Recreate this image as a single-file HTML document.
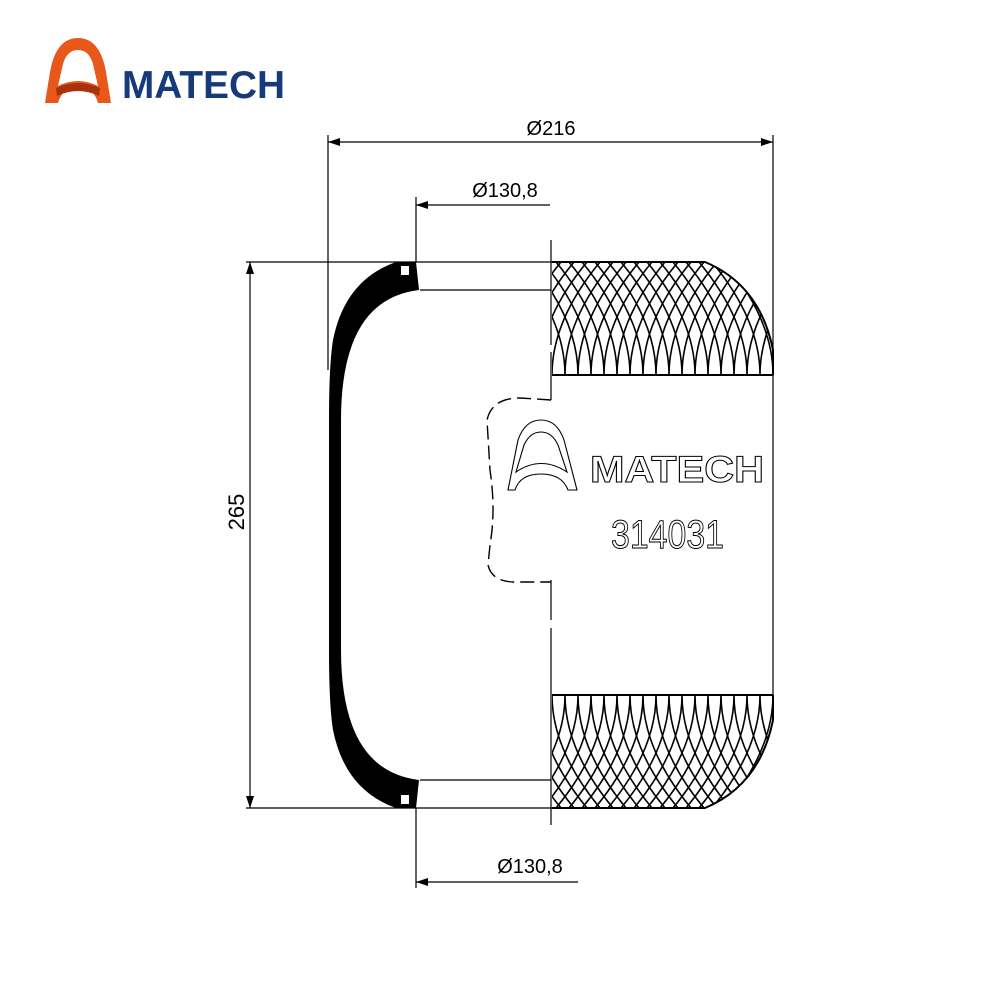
<!DOCTYPE html>
<html><head><meta charset="utf-8"><style>html,body{margin:0;padding:0;background:#fff}svg{display:block}</style></head>
<body>
<svg width="1000" height="1000" viewBox="0 0 1000 1000" xmlns="http://www.w3.org/2000/svg">
<defs>
  <path id="c" d="M0,375 Q0,320 -48,262 M0,375 Q0,320 48,262" fill="none" stroke="#000" stroke-width="1.6"/>
  <clipPath id="band"><path d="M552,262 L705,262 Q760,285 773,350 L773,375 L552,375 Z"/></clipPath>
  <g id="hatch">
    <g clip-path="url(#band)">
      <use href="#c" x="500"/><use href="#c" x="513"/><use href="#c" x="526"/><use href="#c" x="539"/><use href="#c" x="552"/><use href="#c" x="565"/><use href="#c" x="578"/><use href="#c" x="591"/><use href="#c" x="604"/><use href="#c" x="617"/><use href="#c" x="630"/><use href="#c" x="643"/><use href="#c" x="656"/><use href="#c" x="669"/><use href="#c" x="682"/><use href="#c" x="695"/><use href="#c" x="708"/><use href="#c" x="721"/><use href="#c" x="734"/><use href="#c" x="747"/><use href="#c" x="760"/><use href="#c" x="773"/><use href="#c" x="786"/><use href="#c" x="799"/><use href="#c" x="812"/>
    </g>
    <path d="M552,262 L705,262 Q760,285 773,350 L773,375 M552,375 L773,375" fill="none" stroke="#000" stroke-width="2"/>
  </g>
</defs>

<!-- logo -->
<path d="M45,103 L50,72 Q56,38 78,38 Q100,38 106,72 L111,103 L98,103 Q94,88 78,86 Q62,88 58,103 Z" fill="#e8581a"/>
<path d="M56,88 Q78,78 100,88 L99,96 Q78,86 57,96 Z" fill="#a8320e"/>
<path d="M58,86 L63,64 Q67,50 78,50 Q89,50 93,64 L98,86 Q78,76 58,86 Z" fill="#fff"/>
<text x="122" y="98" font-family="Liberation Sans, sans-serif" font-weight="bold" font-size="39" fill="#163a7a" textLength="163" lengthAdjust="spacingAndGlyphs">MATECH</text>

<g fill="none" stroke="#000" stroke-width="1.2">
  <line x1="328" y1="135" x2="328" y2="370"/>
  <line x1="773" y1="135" x2="773" y2="350"/>
  <line x1="328" y1="142" x2="773" y2="142"/>
  <line x1="416" y1="197" x2="416" y2="262"/>
  <line x1="416" y1="205" x2="550" y2="205"/>
  <line x1="246" y1="262" x2="552" y2="262"/>
  <line x1="246" y1="808" x2="552" y2="808"/>
  <line x1="250" y1="262" x2="250" y2="808"/>
  <line x1="416" y1="808" x2="416" y2="888"/>
  <line x1="416" y1="882" x2="578" y2="882"/>
  <line x1="420" y1="290" x2="551" y2="290"/>
  <line x1="420" y1="780" x2="551" y2="780"/>
  <line x1="773" y1="350" x2="773" y2="720"/>
  <path d="M551,240 V345 M551,352 V400 M551,580 V620 M551,628 V825"/>
  <path d="M551,400 L520,398 Q492,398 487,420 L490,470 Q496,510 490,545 L488,565 Q492,582 515,582 L551,582" stroke-dasharray="14,6" stroke-width="1.4"/>
</g>
<g fill="#000">
  <polygon points="328,142 340,138 340,146"/>
  <polygon points="773,142 761,138 761,146"/>
  <polygon points="416,205 428,201 428,209"/>
  <polygon points="250,262 246,274 254,274"/>
  <polygon points="250,808 246,796 254,796"/>
  <polygon points="416,882 428,878 428,886"/>
</g>
<text x="551" y="135" text-anchor="middle" font-family="Liberation Sans, sans-serif" font-size="20">Ø216</text>
<text x="505" y="197" text-anchor="middle" font-family="Liberation Sans, sans-serif" font-size="20">Ø130,8</text>
<text x="530" y="873" text-anchor="middle" font-family="Liberation Sans, sans-serif" font-size="20">Ø130,8</text>
<text transform="translate(244,512) rotate(-90)" text-anchor="middle" font-family="Liberation Sans, sans-serif" font-size="22">265</text>

<path d="M396,262 L416,262 L419,290 Q370,296 352,345 Q341,375 341,420 L341,650 Q341,695 352,725 Q370,774 419,780 L416,808 L396,808 Q345,790 333,730 Q329,705 329,650 L329,420 Q329,365 333,340 Q345,280 396,262 Z" fill="#000"/>
<rect x="401" y="266" width="8" height="9" fill="#fff"/>
<rect x="401" y="795" width="8" height="9" fill="#fff"/>

<use href="#hatch"/>
<use href="#hatch" transform="translate(0,1070) scale(1,-1)"/>

<path d="M508,490 L518,440 Q525,420 541,420 Q557,420 564,440 L577,490 L568,490 Q562,474 541,474 Q520,474 515,490 Z M516,472 L524,445 Q530,432 541,432 Q552,432 558,445 L567,472 Q541,455 516,472 Z" fill="#fff" stroke="#000" stroke-width="1.1" fill-rule="evenodd"/>
<text x="590" y="482" font-family="Liberation Sans, sans-serif" font-weight="bold" font-size="37" fill="#fff" stroke="#000" stroke-width="1" textLength="174" lengthAdjust="spacingAndGlyphs">MATECH</text>
<text x="611" y="548" font-family="Liberation Sans, sans-serif" font-size="40" fill="#fff" stroke="#000" stroke-width="1" textLength="113" lengthAdjust="spacingAndGlyphs">314031</text>
</svg>
</body></html>
